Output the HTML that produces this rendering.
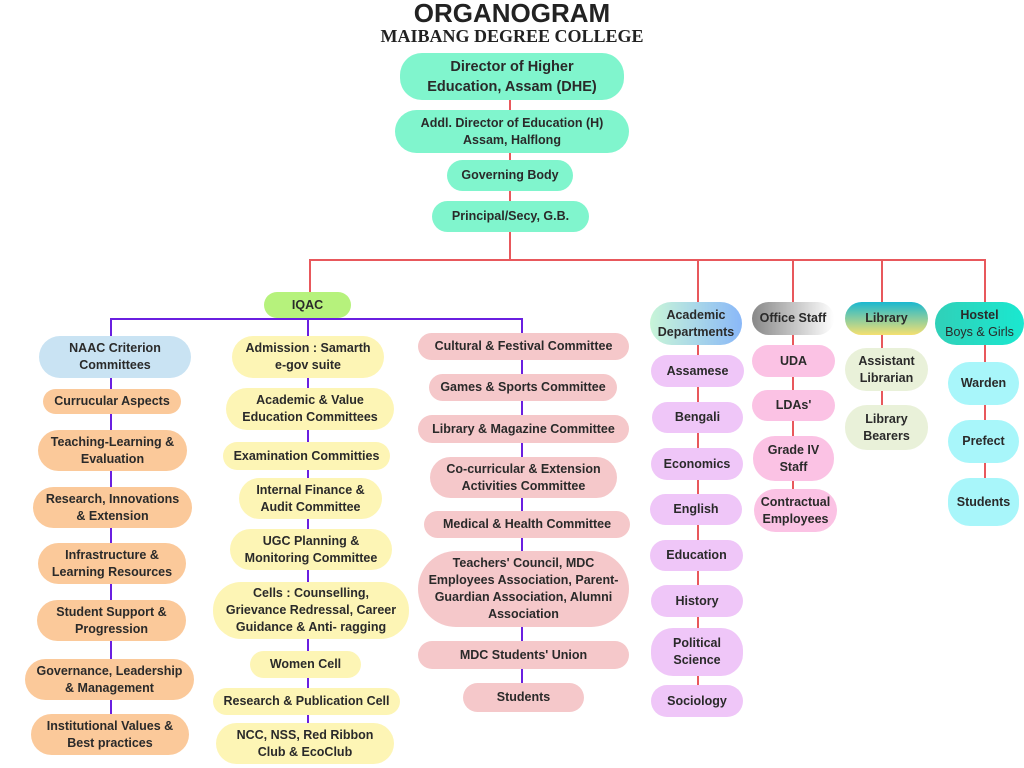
<!DOCTYPE html>
<html><head><meta charset="utf-8"><style>
body{margin:0;width:1024px;height:768px;background:#fff;position:relative;overflow:hidden;font-family:"Liberation Sans",sans-serif}
.b{position:absolute;display:flex;align-items:center;justify-content:center;text-align:center;border-radius:22px;font-weight:bold;font-size:12.5px;line-height:17px;color:#2a2a2a;box-sizing:border-box;padding:0 4px}
.l{position:absolute}
.r{background:#e8585c}
.p{background:#6a1fe0}
.t{background:#80f5cd}.o{background:#fbc99a}.y{background:#fdf5b5}.k{background:#f5c8ca}.v{background:#efc6f8}.m{background:#fbc2e4}
</style></head><body>
<div style="position:absolute;left:0;width:1024px;top:0;text-align:center;font-weight:bold;font-size:26px;line-height:26px;color:#222">ORGANOGRAM</div>
<div style="position:absolute;left:0;width:1024px;top:25px;text-align:center;font-weight:bold;font-size:18px;line-height:22px;font-family:'Liberation Serif',serif;color:#222">MAIBANG DEGREE COLLEGE</div>

<!-- lines -->
<div class="l r" style="left:509px;top:98px;width:2px;height:162px"></div>
<div class="l r" style="left:309px;top:259px;width:677px;height:2px"></div>
<div class="l r" style="left:309px;top:259px;width:2px;height:34px"></div>
<div class="l r" style="left:697px;top:259px;width:2px;height:450px"></div>
<div class="l r" style="left:792px;top:259px;width:2px;height:250px"></div>
<div class="l r" style="left:881px;top:259px;width:2px;height:170px"></div>
<div class="l r" style="left:984px;top:259px;width:2px;height:240px"></div>
<div class="l p" style="left:110px;top:318px;width:413px;height:2px"></div>
<div class="l p" style="left:110px;top:318px;width:2px;height:420px"></div>
<div class="l p" style="left:307px;top:318px;width:2px;height:420px"></div>
<div class="l p" style="left:521px;top:318px;width:2px;height:380px"></div>

<div class="b t" style="left:400px;top:53px;width:224px;height:47px;font-size:14.5px;line-height:20px">Director of Higher<br>Education, Assam (DHE)</div>
<div class="b t" style="left:395px;top:110px;width:234px;height:43px">Addl. Director of Education (H)<br>Assam, Halflong</div>
<div class="b t" style="left:447px;top:160px;width:126px;height:31px">Governing Body</div>
<div class="b t" style="left:432px;top:201px;width:157px;height:31px">Principal/Secy, G.B.</div>

<div class="b" style="left:264px;top:292px;width:87px;height:26px;background:#b6f27c">IQAC</div>

<div class="b" style="left:39px;top:336px;width:152px;height:42px;background:#c9e3f3">NAAC Criterion<br>Committees</div>
<div class="b o" style="left:43px;top:389px;width:138px;height:25px">Currucular Aspects</div>
<div class="b o" style="left:38px;top:430px;width:149px;height:41px">Teaching-Learning &amp;<br>Evaluation</div>
<div class="b o" style="left:33px;top:487px;width:159px;height:41px">Research, Innovations<br>&amp; Extension</div>
<div class="b o" style="left:38px;top:543px;width:148px;height:41px">Infrastructure &amp;<br>Learning Resources</div>
<div class="b o" style="left:37px;top:600px;width:149px;height:41px">Student Support &amp;<br>Progression</div>
<div class="b o" style="left:25px;top:659px;width:169px;height:41px">Governance, Leadership<br>&amp; Management</div>
<div class="b o" style="left:31px;top:714px;width:158px;height:41px">Institutional Values &amp;<br>Best practices</div>

<div class="b y" style="left:232px;top:336px;width:152px;height:42px">Admission : Samarth<br>e-gov suite</div>
<div class="b y" style="left:226px;top:388px;width:168px;height:42px">Academic &amp; Value<br>Education Committees</div>
<div class="b y" style="left:223px;top:442px;width:167px;height:28px">Examination Committies</div>
<div class="b y" style="left:239px;top:478px;width:143px;height:41px">Internal Finance &amp;<br>Audit Committee</div>
<div class="b y" style="left:230px;top:529px;width:162px;height:41px">UGC Planning &amp;<br>Monitoring Committee</div>
<div class="b y" style="left:213px;top:582px;width:196px;height:57px;border-radius:28px">Cells : Counselling,<br>Grievance Redressal, Career<br>Guidance &amp; Anti- ragging</div>
<div class="b y" style="left:250px;top:651px;width:111px;height:27px">Women Cell</div>
<div class="b y" style="left:213px;top:688px;width:187px;height:27px">Research &amp; Publication Cell</div>
<div class="b y" style="left:216px;top:723px;width:178px;height:41px">NCC, NSS, Red Ribbon<br>Club &amp; EcoClub</div>

<div class="b k" style="left:418px;top:333px;width:211px;height:27px">Cultural &amp; Festival Committee</div>
<div class="b k" style="left:429px;top:374px;width:188px;height:27px">Games &amp; Sports Committee</div>
<div class="b k" style="left:418px;top:415px;width:211px;height:28px">Library &amp; Magazine Committee</div>
<div class="b k" style="left:430px;top:457px;width:187px;height:41px">Co-curricular &amp; Extension<br>Activities Committee</div>
<div class="b k" style="left:424px;top:511px;width:206px;height:27px">Medical &amp; Health Committee</div>
<div class="b k" style="left:418px;top:551px;width:211px;height:76px;border-radius:38px">Teachers' Council, MDC<br>Employees Association, Parent-<br>Guardian Association, Alumni<br>Association</div>
<div class="b k" style="left:418px;top:641px;width:211px;height:28px">MDC Students' Union</div>
<div class="b k" style="left:463px;top:683px;width:121px;height:29px">Students</div>

<div class="b" style="left:650px;top:302px;width:92px;height:43px;background:linear-gradient(90deg,#c8f5d8,#8ab8f8)">Academic<br>Departments</div>
<div class="b v" style="left:651px;top:355px;width:93px;height:32px">Assamese</div>
<div class="b v" style="left:652px;top:402px;width:91px;height:31px">Bengali</div>
<div class="b v" style="left:651px;top:448px;width:92px;height:32px">Economics</div>
<div class="b v" style="left:650px;top:494px;width:92px;height:31px">English</div>
<div class="b v" style="left:650px;top:540px;width:93px;height:31px">Education</div>
<div class="b v" style="left:651px;top:585px;width:92px;height:32px">History</div>
<div class="b v" style="left:651px;top:628px;width:92px;height:48px">Political<br>Science</div>
<div class="b v" style="left:651px;top:685px;width:92px;height:32px">Sociology</div>

<div class="b" style="left:752px;top:302px;width:82px;height:33px;background:linear-gradient(90deg,#888,#fff)">Office Staff</div>
<div class="b m" style="left:752px;top:345px;width:83px;height:32px">UDA</div>
<div class="b m" style="left:752px;top:390px;width:83px;height:31px">LDAs'</div>
<div class="b m" style="left:753px;top:436px;width:81px;height:45px">Grade IV<br>Staff</div>
<div class="b m" style="left:754px;top:489px;width:83px;height:43px">Contractual<br>Employees</div>

<div class="b" style="left:845px;top:302px;width:83px;height:33px;background:linear-gradient(180deg,#1ab8d0,#f5e070)">Library</div>
<div class="b" style="left:845px;top:348px;width:83px;height:43px;background:#e9f1d9">Assistant<br>Librarian</div>
<div class="b" style="left:845px;top:405px;width:83px;height:45px;background:#e9f1d9">Library<br>Bearers</div>

<div style="position:absolute;left:935px;top:302px;width:89px;height:43px;background:linear-gradient(90deg,#30d0b8,#1ae8d0);border-radius:22px;text-align:center;font-size:12.5px;line-height:17px;color:#2a2a2a;box-sizing:border-box;padding-top:5px"><b>Hostel</b><br>Boys &amp; Girls</div>
<div class="b" style="left:948px;top:362px;width:71px;height:43px;background:#a8f6fa">Warden</div>
<div class="b" style="left:948px;top:420px;width:71px;height:43px;background:#a8f6fa">Prefect</div>
<div class="b" style="left:948px;top:478px;width:71px;height:48px;background:#a8f6fa">Students</div>
</body></html>
